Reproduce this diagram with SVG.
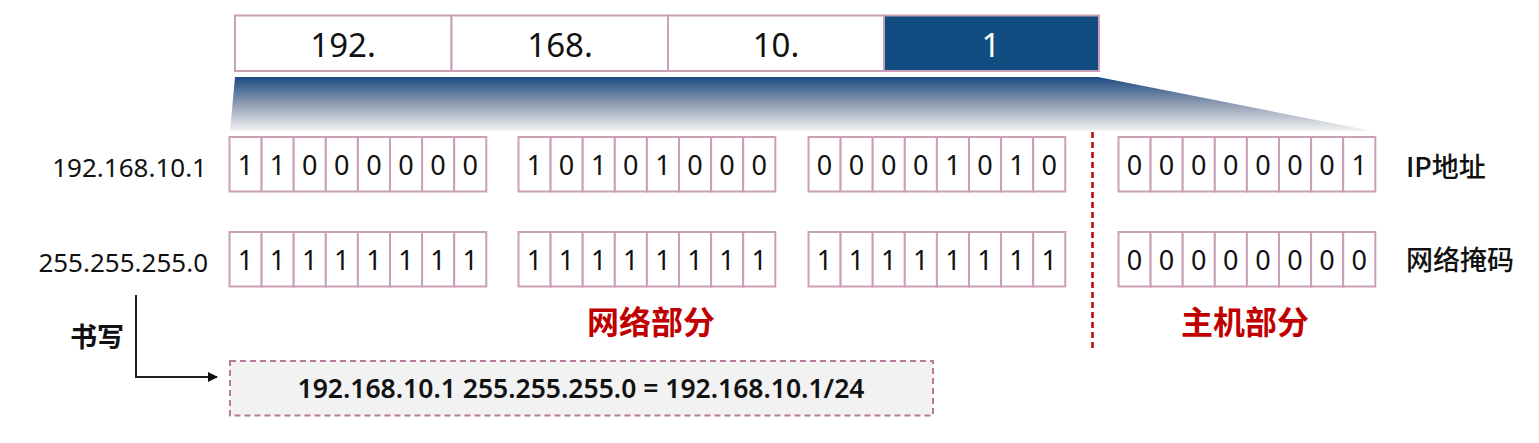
<svg xmlns="http://www.w3.org/2000/svg" width="1539" height="443" viewBox="0 0 1539 443">
<style>
.cell{fill:#ffffff;stroke:#c9a0b5;stroke-width:2}
.bit{font-family:"Noto Sans","Open Sans",sans-serif;font-size:27px;fill:#111;text-anchor:middle}
.top{font-family:"Noto Sans","Open Sans",sans-serif;font-size:33px;fill:#111;text-anchor:middle}
.lbl{font-family:"Noto Sans","Open Sans",sans-serif;font-size:26px;fill:#111;text-anchor:end}
.cn{font-family:"Noto Sans CJK SC","Noto Sans",sans-serif;font-size:27px;font-weight:500;fill:#111}
.red{font-family:"Noto Sans CJK SC","Noto Sans",sans-serif;font-size:32px;font-weight:700;fill:#c00000;text-anchor:middle}
</style>
<defs>
<linearGradient id="fan" x1="0" y1="0" x2="0" y2="1">
<stop offset="0" stop-color="#1b4a82"/>
<stop offset="0.5" stop-color="#8e9cb2"/>
<stop offset="1" stop-color="#f3f3f3"/>
</linearGradient>
<marker id="arr" viewBox="0 0 10 10" refX="9" refY="5" markerWidth="10" markerHeight="10" markerUnits="userSpaceOnUse" orient="auto">
<path d="M0,0 L10,5 L0,10 z" fill="#111"/>
</marker>
</defs>

<g id="octets">
<rect class="cell" x="235" y="15.5" width="216.5" height="55.5"/>
<rect class="cell" x="451.5" y="15.5" width="216.5" height="55.5"/>
<rect class="cell" x="668" y="15.5" width="216" height="55.5"/>
<rect x="884" y="15.5" width="215" height="55.5" fill="#124d82" stroke="#c9a0b5" stroke-width="2"/>
<text class="top" x="343" y="56.5">192.</text>
<text class="top" x="560" y="56.5">168.</text>
<text class="top" x="776" y="56.5">10.</text>
<text class="top" x="991" y="56.5" style="fill:#ffffff">1</text>
</g>

<g id="fan-shape">
<polygon points="235,77 1098,77 1372,131 230,131" fill="url(#fan)"/>
</g>

<g id="labels">
<text class="lbl" x="207" y="177">192.168.10.1</text>
<text class="lbl" x="208" y="272">255.255.255.0</text>
<text class="cn" x="1406" y="177">IP地址</text>
<text class="cn" x="1406" y="270">网络掩码</text>
<text class="red" x="651" y="334">网络部分</text>
<text class="red" x="1245" y="334">主机部分</text>
<text class="cn" x="70" y="347" style="font-weight:700">书写</text>
</g>

<g id="ip-bits">
<g id="ip-oct1">
<rect class="cell" x="229.5" y="137" width="32.1" height="54.5"/><rect class="cell" x="261.6" y="137" width="32.1" height="54.5"/><rect class="cell" x="293.7" y="137" width="32.1" height="54.5"/><rect class="cell" x="325.8" y="137" width="32.1" height="54.5"/><rect class="cell" x="357.9" y="137" width="32.1" height="54.5"/><rect class="cell" x="390" y="137" width="32.1" height="54.5"/><rect class="cell" x="422.1" y="137" width="32.1" height="54.5"/><rect class="cell" x="454.2" y="137" width="32.1" height="54.5"/>
<text class="bit" y="174.5"><tspan x="245.5">1</tspan><tspan x="277.6">1</tspan><tspan x="309.7">0</tspan><tspan x="341.8">0</tspan><tspan x="373.9">0</tspan><tspan x="406">0</tspan><tspan x="438.1">0</tspan><tspan x="470.2">0</tspan></text>
</g>
<g id="ip-oct2">
<rect class="cell" x="518.5" y="137" width="32.1" height="54.5"/><rect class="cell" x="550.6" y="137" width="32.1" height="54.5"/><rect class="cell" x="582.7" y="137" width="32.1" height="54.5"/><rect class="cell" x="614.8" y="137" width="32.1" height="54.5"/><rect class="cell" x="646.9" y="137" width="32.1" height="54.5"/><rect class="cell" x="679" y="137" width="32.1" height="54.5"/><rect class="cell" x="711.1" y="137" width="32.1" height="54.5"/><rect class="cell" x="743.2" y="137" width="32.1" height="54.5"/>
<text class="bit" y="174.5"><tspan x="534.5">1</tspan><tspan x="566.6">0</tspan><tspan x="598.7">1</tspan><tspan x="630.8">0</tspan><tspan x="662.9">1</tspan><tspan x="695">0</tspan><tspan x="727.1">0</tspan><tspan x="759.2">0</tspan></text>
</g>
<g id="ip-oct3">
<rect class="cell" x="808.5" y="137" width="32.1" height="54.5"/><rect class="cell" x="840.6" y="137" width="32.1" height="54.5"/><rect class="cell" x="872.7" y="137" width="32.1" height="54.5"/><rect class="cell" x="904.8" y="137" width="32.1" height="54.5"/><rect class="cell" x="936.9" y="137" width="32.1" height="54.5"/><rect class="cell" x="969" y="137" width="32.1" height="54.5"/><rect class="cell" x="1001.1" y="137" width="32.1" height="54.5"/><rect class="cell" x="1033.2" y="137" width="32.1" height="54.5"/>
<text class="bit" y="174.5"><tspan x="824.5">0</tspan><tspan x="856.6">0</tspan><tspan x="888.7">0</tspan><tspan x="920.8">0</tspan><tspan x="952.9">1</tspan><tspan x="985">0</tspan><tspan x="1017.1">1</tspan><tspan x="1049.2">0</tspan></text>
</g>
<g id="ip-oct4">
<rect class="cell" x="1118.5" y="137" width="32.1" height="54.5"/><rect class="cell" x="1150.6" y="137" width="32.1" height="54.5"/><rect class="cell" x="1182.7" y="137" width="32.1" height="54.5"/><rect class="cell" x="1214.8" y="137" width="32.1" height="54.5"/><rect class="cell" x="1246.9" y="137" width="32.1" height="54.5"/><rect class="cell" x="1279" y="137" width="32.1" height="54.5"/><rect class="cell" x="1311.1" y="137" width="32.1" height="54.5"/><rect class="cell" x="1343.2" y="137" width="32.1" height="54.5"/>
<text class="bit" y="174.5"><tspan x="1134.5">0</tspan><tspan x="1166.6">0</tspan><tspan x="1198.7">0</tspan><tspan x="1230.8">0</tspan><tspan x="1262.9">0</tspan><tspan x="1295">0</tspan><tspan x="1327.1">0</tspan><tspan x="1359.2">1</tspan></text>
</g>
</g>

<g id="mask-bits">
<g id="mask-oct1">
<rect class="cell" x="229.5" y="232" width="32.1" height="54.5"/><rect class="cell" x="261.6" y="232" width="32.1" height="54.5"/><rect class="cell" x="293.7" y="232" width="32.1" height="54.5"/><rect class="cell" x="325.8" y="232" width="32.1" height="54.5"/><rect class="cell" x="357.9" y="232" width="32.1" height="54.5"/><rect class="cell" x="390" y="232" width="32.1" height="54.5"/><rect class="cell" x="422.1" y="232" width="32.1" height="54.5"/><rect class="cell" x="454.2" y="232" width="32.1" height="54.5"/>
<text class="bit" y="269.5"><tspan x="245.5">1</tspan><tspan x="277.6">1</tspan><tspan x="309.7">1</tspan><tspan x="341.8">1</tspan><tspan x="373.9">1</tspan><tspan x="406">1</tspan><tspan x="438.1">1</tspan><tspan x="470.2">1</tspan></text>
</g>
<g id="mask-oct2">
<rect class="cell" x="518.5" y="232" width="32.1" height="54.5"/><rect class="cell" x="550.6" y="232" width="32.1" height="54.5"/><rect class="cell" x="582.7" y="232" width="32.1" height="54.5"/><rect class="cell" x="614.8" y="232" width="32.1" height="54.5"/><rect class="cell" x="646.9" y="232" width="32.1" height="54.5"/><rect class="cell" x="679" y="232" width="32.1" height="54.5"/><rect class="cell" x="711.1" y="232" width="32.1" height="54.5"/><rect class="cell" x="743.2" y="232" width="32.1" height="54.5"/>
<text class="bit" y="269.5"><tspan x="534.5">1</tspan><tspan x="566.6">1</tspan><tspan x="598.7">1</tspan><tspan x="630.8">1</tspan><tspan x="662.9">1</tspan><tspan x="695">1</tspan><tspan x="727.1">1</tspan><tspan x="759.2">1</tspan></text>
</g>
<g id="mask-oct3">
<rect class="cell" x="808.5" y="232" width="32.1" height="54.5"/><rect class="cell" x="840.6" y="232" width="32.1" height="54.5"/><rect class="cell" x="872.7" y="232" width="32.1" height="54.5"/><rect class="cell" x="904.8" y="232" width="32.1" height="54.5"/><rect class="cell" x="936.9" y="232" width="32.1" height="54.5"/><rect class="cell" x="969" y="232" width="32.1" height="54.5"/><rect class="cell" x="1001.1" y="232" width="32.1" height="54.5"/><rect class="cell" x="1033.2" y="232" width="32.1" height="54.5"/>
<text class="bit" y="269.5"><tspan x="824.5">1</tspan><tspan x="856.6">1</tspan><tspan x="888.7">1</tspan><tspan x="920.8">1</tspan><tspan x="952.9">1</tspan><tspan x="985">1</tspan><tspan x="1017.1">1</tspan><tspan x="1049.2">1</tspan></text>
</g>
<g id="mask-oct4">
<rect class="cell" x="1118.5" y="232" width="32.1" height="54.5"/><rect class="cell" x="1150.6" y="232" width="32.1" height="54.5"/><rect class="cell" x="1182.7" y="232" width="32.1" height="54.5"/><rect class="cell" x="1214.8" y="232" width="32.1" height="54.5"/><rect class="cell" x="1246.9" y="232" width="32.1" height="54.5"/><rect class="cell" x="1279" y="232" width="32.1" height="54.5"/><rect class="cell" x="1311.1" y="232" width="32.1" height="54.5"/><rect class="cell" x="1343.2" y="232" width="32.1" height="54.5"/>
<text class="bit" y="269.5"><tspan x="1134.5">0</tspan><tspan x="1166.6">0</tspan><tspan x="1198.7">0</tspan><tspan x="1230.8">0</tspan><tspan x="1262.9">0</tspan><tspan x="1295">0</tspan><tspan x="1327.1">0</tspan><tspan x="1359.2">0</tspan></text>
</g>
</g>

<g id="divider">
<line x1="1092.5" y1="132" x2="1092.5" y2="352" stroke="#c00000" stroke-width="2.5" stroke-dasharray="6 4"/>
</g>

<g id="result-box">
<rect x="230" y="361" width="703" height="54.5" fill="#f2f2f2" stroke="#b8799a" stroke-width="2" stroke-dasharray="6 4"/>
<text x="581" y="397.5" font-family="Noto Sans, Open Sans, sans-serif" font-size="26.5" font-weight="600" fill="#111" text-anchor="middle">192.168.10.1 255.255.255.0 = 192.168.10.1/24</text>
</g>

<g id="connectors">
<path d="M136 295 V377 H217" fill="none" stroke="#222" stroke-width="2" marker-end="url(#arr)"/>
</g>
</svg>
